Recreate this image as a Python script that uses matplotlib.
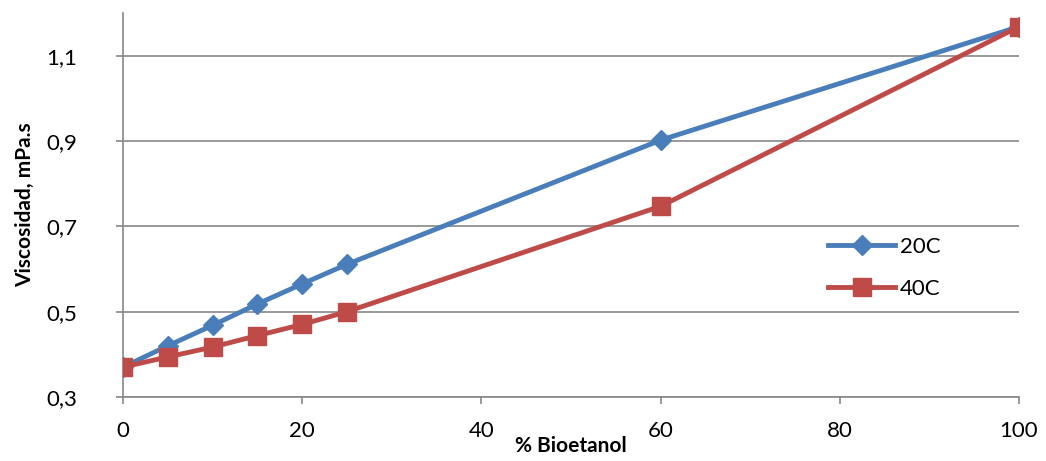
import matplotlib.pyplot as plt
import numpy as np

plt.rcParams['font.family'] = ['Lato', 'DejaVu Sans']

# % bioetanol and viscosity values
bioetanol = [0, 5, 10, 15, 20, 25, 60, 100]
visc_20c = [0.37, 0.42, 0.468, 0.518, 0.565, 0.611, 0.902, 1.168]
visc_40c = [0.37, 0.394, 0.417, 0.444, 0.47, 0.50, 0.747, 1.168]

fig = plt.figure(figsize=(10.46, 4.61), dpi=100)
ax = fig.add_axes([123/1046, 64/461, (1019-123)/1046, (397-13)/461])

ax.plot(bioetanol, visc_20c, color="#4A7EBB", lw=3.5, marker="D", ms=10,
        label="20C", zorder=3)
ax.plot(bioetanol, visc_40c, color="#BE4B48", lw=3.5, marker="s", ms=13,
        label="40C", zorder=4)

ax.set_xlim(0, 100)
ax.set_ylim(0.3, 1.2)
ax.set_xticks([0, 20, 40, 60, 80, 100])
ax.set_yticks([0.3, 0.5, 0.7, 0.9, 1.1])
ax.set_yticklabels(["0,3", "0,5", "0,7", "0,9", "1,1"])
ax.yaxis.grid(True, color="#888888", lw=1.2)
ax.set_axisbelow(True)
for s in ["top", "right"]:
    ax.spines[s].set_visible(False)
for s in ["left", "bottom"]:
    ax.spines[s].set_color("#888888")
    ax.spines[s].set_linewidth(1.2)
ax.tick_params(colors="#888888", labelcolor="black", labelsize=16, length=5, width=1.2)
ax.tick_params(axis="x", pad=12)
ax.tick_params(axis="y", pad=28)
ax.set_xlabel("% Bioetanol", fontsize=15, fontweight="bold", labelpad=-3)
ax.set_ylabel("Viscosidad, mPa.s", fontsize=15, fontweight="bold", labelpad=8)
ax.legend(loc="center left", bbox_to_anchor=(0.765, 0.336), frameon=False,
          fontsize=16, handlelength=3, labelspacing=1.0, handletextpad=0.2)

plt.savefig("out.png", dpi=100)
